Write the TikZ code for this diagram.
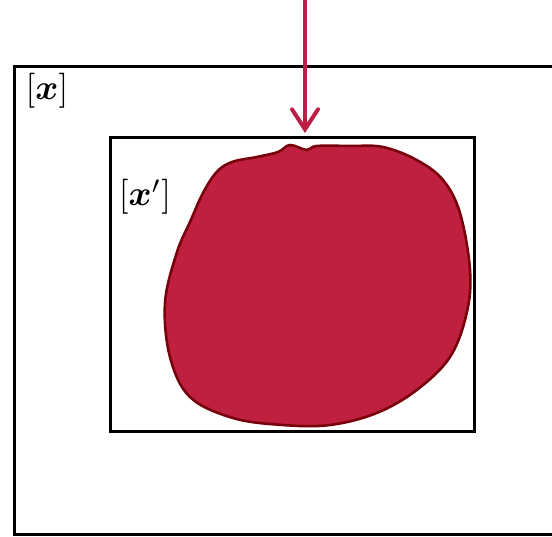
\documentclass[tikz,border=0pt]{standalone}
\usepackage{amsmath,bm}
\usepackage{xcolor}
\usetikzlibrary{arrows.meta}
\definecolor{blobfill}{RGB}{192, 32, 64}
\definecolor{blobline}{RGB}{120, 0, 10}
\definecolor{pointer}{RGB}{190, 30, 70}

\begin{document}
\begin{tikzpicture}[x=1pt, y=-1pt,
    frame/.style={draw=black, line width=3pt},
    region/.style={fill=blobfill, draw=blobline, line width=2.6pt},
    lbl/.style={inner sep=0pt, scale=3.5, transform shape},
    pointerarrow/.style={-{Straight Barb[length=20pt, width=26pt, line cap=round]}, line width=4pt, pointer}
]
\useasboundingbox (0,0) rectangle (552,536);
\clip (0,0) rectangle (552,536);

% boxes
\draw[frame] (14,66) rectangle (570,534);
\draw[frame] (110,137) rectangle (474,431);

% the shape
\filldraw[region] plot[smooth cycle, tension=0.6] coordinates {
    (290,145) (306.7,150) (316.7,146) (350,146) (383,147) (416.7,160) (443,180)
    (460,213) (470,270) (466.7,313) (450,357) (416.7,390) (376.7,413)
    (330,425) (283,425) (233,418) (190,397) (170,357) (165,303)
    (176.7,253) (190,222) (203,193) (216.7,172) (232,162) (256.7,157) (278,152)};

% labels
\node[lbl] (outerlbl) at (47,91) {$[\bm{x}]$};
\node[lbl] (innerlbl) at (145,197) {$[\bm{x}']$};

% pointer
\coordinate (src) at (305,-2);
\coordinate (tip) at (305,133);
\draw[pointerarrow] (src) -- (tip);

\end{tikzpicture}
\end{document}
